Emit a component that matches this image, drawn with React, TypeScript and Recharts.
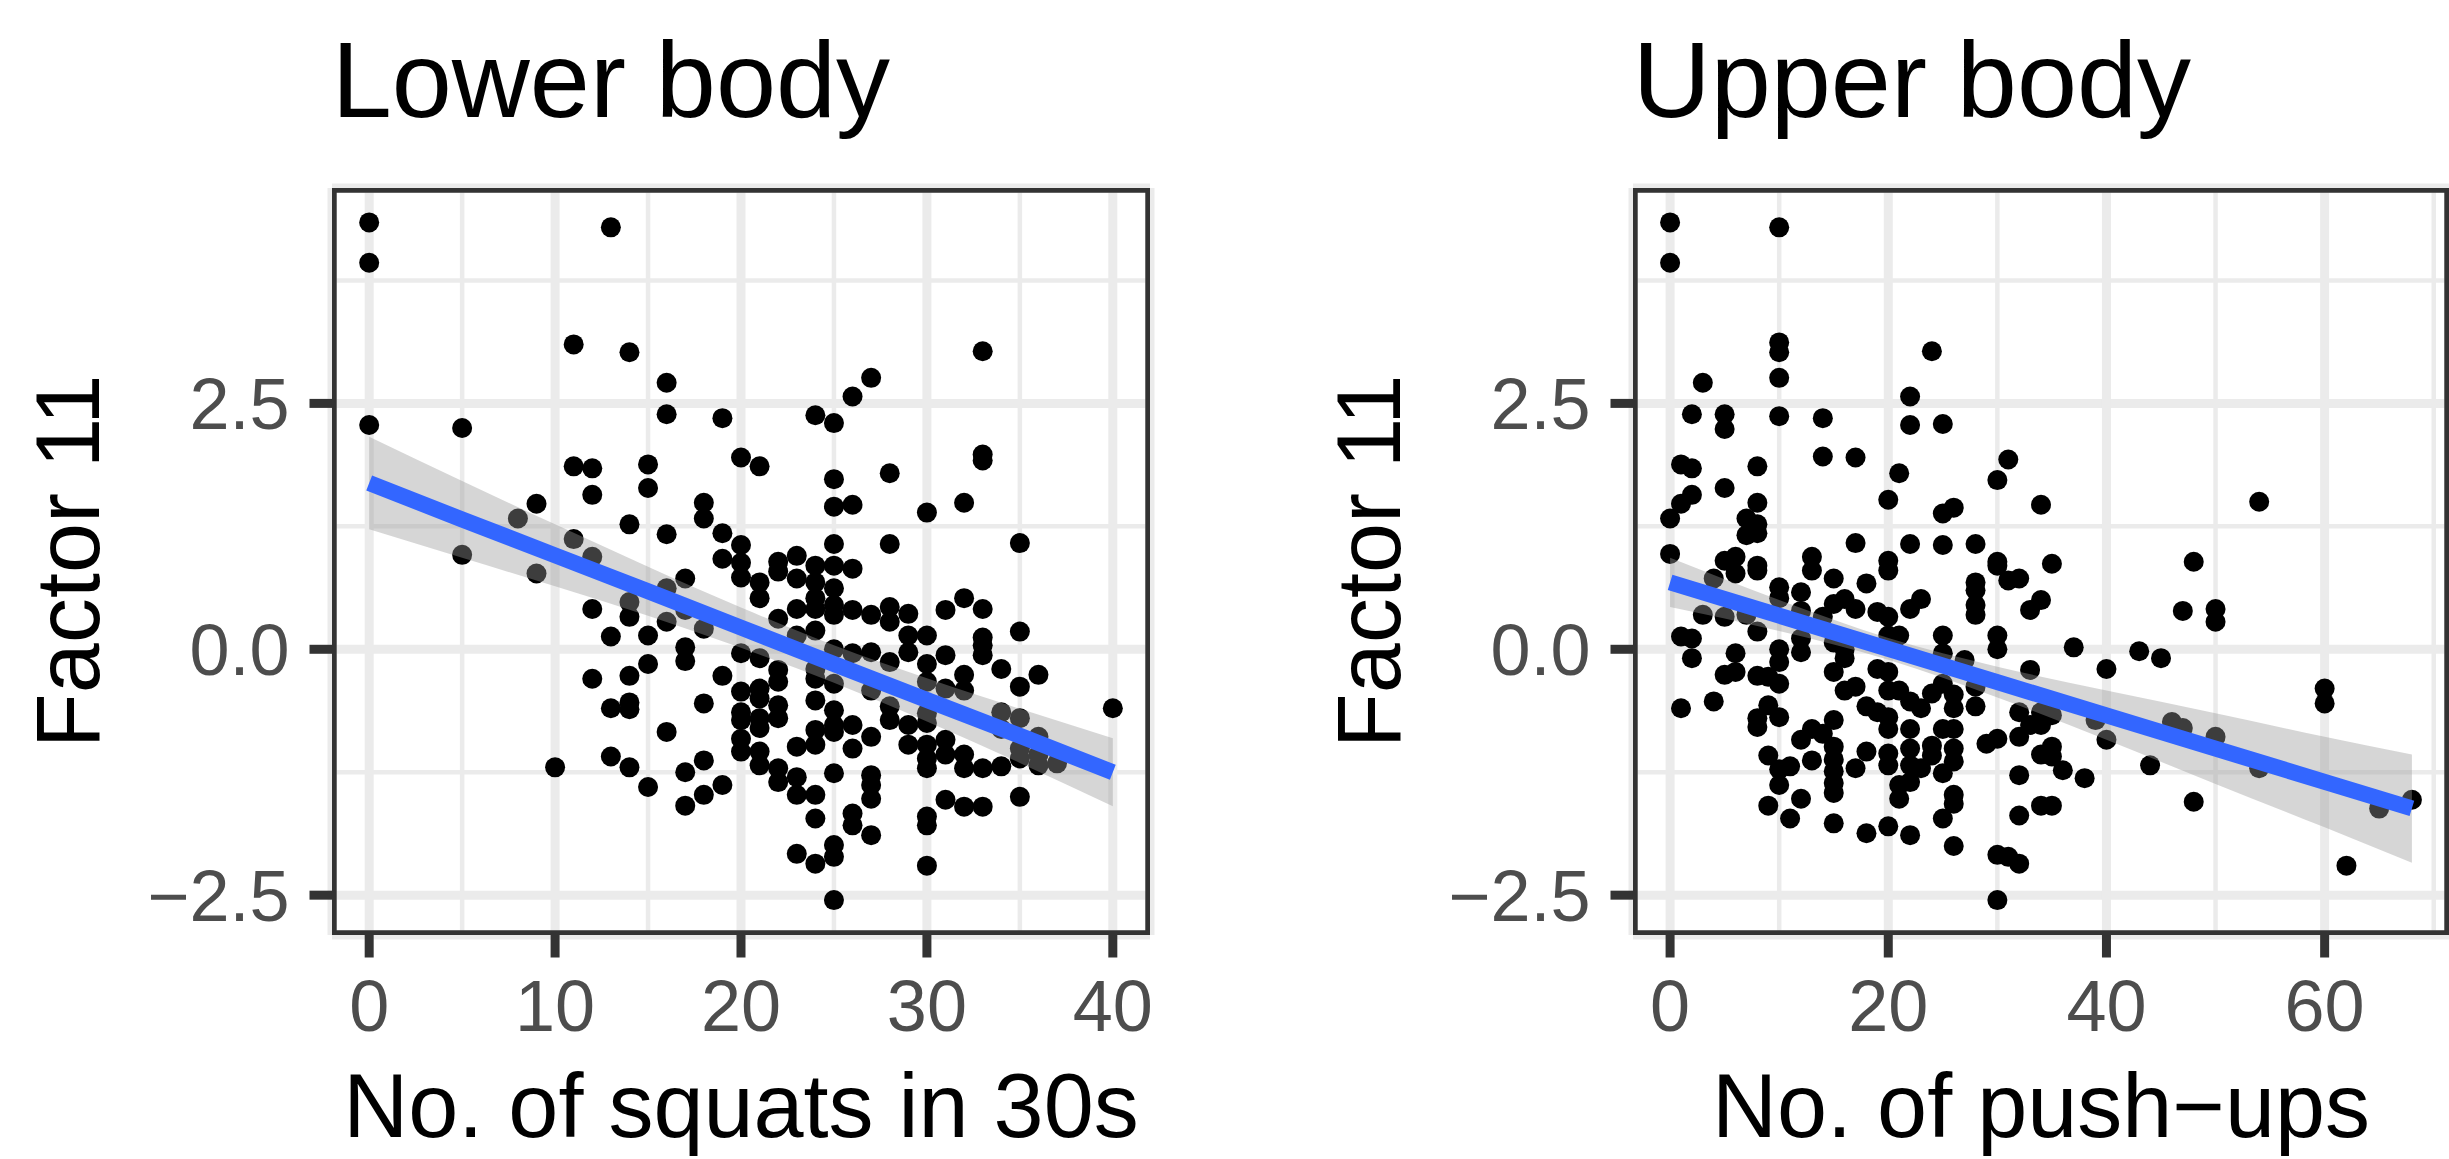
import { ComposedChart, Scatter, Line, Area, XAxis, YAxis, CartesianGrid, ReferenceArea } from 'recharts'

// [no. of squats, factor 11]
const lowerPoints: [number, number][] = [
  [0, 4.34], [0, 3.93], [13, 4.29], [11, 3.1], [14, 3.02], [16, 2.71], [0, 2.28], [5, 2.25], [16, 2.39], [19, 2.35],
  [11, 1.86], [12, 1.84], [12, 1.57], [15, 1.88], [15, 1.64], [20, 1.95], [9, 1.48], [8, 1.33], [14, 1.27], [16, 1.17],
  [18, 1.49], [18, 1.33], [19, 1.18], [20, 1.06], [5, 0.96], [11, 1.12], [12, 0.94], [19, 0.92], [20, 0.88],
  [33, 3.03], [27, 2.76], [26, 2.57], [24, 2.38], [25, 2.3], [21, 1.86], [25, 1.73], [28, 1.79], [33, 1.98], [33, 1.92],
  [25, 1.45], [26, 1.47], [30, 1.39], [32, 1.49], [35, 1.08], [25, 1.07], [28, 1.07],
  [9, 0.77], [20, 0.73], [17, 0.72], [16, 0.62], [14, 0.48], [14, 0.33], [12, 0.41], [17, 0.4], [18, 0.21], [16, 0.28],
  [13, 0.13], [15, 0.14], [17, 0.02], [20, -0.04], [17, -0.12], [15, -0.15], [12, -0.3], [14, -0.27], [19, -0.27],
  [20, -0.43], [13, -0.6], [14, -0.54], [14, -0.61], [18, -0.55], [20, -0.64], [20, -0.72], [16, -0.84], [20, -0.91],
  [20, -1.04], [13, -1.09], [14, -1.2], [10, -1.2], [15, -1.4], [17, -1.25], [18, -1.13], [18, -1.48], [19, -1.38], [17, -1.59],
  [21, 0.68], [21, 0.52], [21, -0.09], [21, -0.4], [21, -0.5], [21, -0.7], [21, -0.8], [21, -1.04], [21, -1.18],
  [22, 0.89], [22, 0.79], [22, 0.31], [22, -0.21], [22, -0.33], [22, -0.57], [22, -0.7], [22, -1.21], [22, -1.35],
  [23, 0.95], [23, 0.72], [23, 0.41], [23, 0.14], [23, -0.99], [23, -1.3], [23, -1.48], [23, -2.08],
  [24, 0.85], [24, 0.68], [24, 0.52], [24, 0.41], [24, 0.19], [24, -0.2], [24, -0.3], [24, -0.52], [24, -0.82], [24, -0.97],
  [24, -1.48], [24, -1.72], [24, -2.18],
  [25, 0.85], [25, 0.62], [25, 0.45], [25, 0.35], [25, 0], [25, -0.35], [25, -0.62], [25, -0.77], [25, -0.84], [25, -1.26],
  [25, -1.99], [25, -2.11], [25, -2.55],
  [26, 0.82], [26, 0.4], [26, -0.04], [26, -0.77], [26, -1.01], [26, -1.67], [26, -1.79],
  [27, 0.35], [27, -0.03], [27, -0.42], [27, -0.89], [27, -1.28], [27, -1.38], [27, -1.52], [27, -1.89],
  [28, 0.43], [28, 0.28], [28, -0.13], [28, -0.58], [28, -0.72],
  [29, 0.36], [29, 0.14], [29, -0.03], [29, -0.77], [29, -0.97],
  [30, 0.14], [30, -0.15], [30, -0.33], [30, -0.65], [30, -0.75], [30, -0.97], [30, -1.11], [30, -1.21], [30, -1.7], [30, -1.79], [30, -2.2],
  [31, 0.4], [31, -0.06], [31, -0.4], [31, -0.92], [31, -1.07], [31, -1.53],
  [32, 0.52], [32, -0.26], [32, -0.42], [32, -1.07], [32, -1.21], [32, -1.6],
  [33, 0.41], [33, 0.12], [33, 0.04], [33, -0.06], [33, -1.21], [33, -1.6],
  [34, -0.2], [34, -0.64], [34, -0.81], [34, -1.19],
  [35, 0.18], [35, -0.38], [35, -0.7], [35, -1.01], [35, -1.11], [35, -1.5],
  [36, -0.26], [36, -0.89], [36, -1.07], [36, -1.18],
  [37, -1.16], [40, -0.6],
]

// [no. of push-ups, factor 11]
const upperPoints: [number, number][] = [
  [0, 4.34], [0, 3.93], [10, 4.29], [10, 3.12], [10, 3.02], [10, 2.76], [24, 3.03], [3, 2.71], [22, 2.57], [2, 2.39],
  [5, 2.39], [5, 2.24], [10, 2.37], [14, 2.35], [22, 2.28], [25, 2.29], [1, 1.88], [2, 1.84], [8, 1.86], [14, 1.96],
  [17, 1.95], [21, 1.79], [31, 1.93], [30, 1.72], [5, 1.64], [2, 1.57], [1, 1.48], [8, 1.49], [0, 1.33], [20, 1.52],
  [25, 1.38], [26, 1.44], [34, 1.47], [7, 1.33], [8, 1.27], [7, 1.16], [8, 1.18], [0, 0.97], [17, 1.08], [22, 1.07],
  [25, 1.06], [28, 1.07], [5, 0.9], [6, 0.94], [13, 0.94], [20, 0.9], [30, 0.89], [8, 0.85],
  [54, 1.5], [35, 0.87], [48, 0.89],
  [34, 0.5], [47, 0.39], [50, 0.41], [50, 0.28], [37, 0.02], [43, -0.02], [45, -0.09], [40, -0.2], [60, -0.4], [60, -0.55],
  [35, -0.67], [34, -0.77], [39, -0.72], [40, -0.92], [46, -0.74], [47, -0.8], [50, -0.89], [35, -0.99], [35, -1.09],
  [36, -1.23], [38, -1.31], [44, -1.18], [54, -1.21], [35, -1.59], [48, -1.55], [65, -1.62], [68, -1.53], [62, -2.2],
  [6, 0.77], [8, 0.8], [13, 0.8], [15, 0.72], [18, 0.67], [20, 0.8], [10, 0.63], [10, 0.52], [12, 0.58], [4, 0.72],
  [3, 0.35], [5, 0.33], [7, 0.35], [1, 0.13], [2, 0.11], [2, -0.09], [8, 0.18], [6, -0.04], [5, -0.26], [6, -0.23],
  [8, -0.27], [9, -0.28], [10, -0.35], [10, 0], [10, -0.13], [12, 0.39], [12, 0.11], [12, -0.03], [14, 0.33], [15, 0.46],
  [16, 0.51], [17, 0.41], [19, 0.38], [20, 0.33], [15, 0.07], [16, 0], [16, -0.09], [15, -0.23], [16, -0.42], [17, -0.38],
  [18, -0.58], [19, -0.64], [20, 0.14], [21, 0.14], [19, -0.2], [20, -0.23], [20, -0.42], [21, -0.42], [22, 0.41], [23, 0.51],
  [25, 0.14], [25, -0.04], [27, -0.11], [28, 0.68], [28, 0.6], [28, 0.45], [28, 0.35], [30, 0.85], [31, 0.7], [32, 0.72],
  [33, 0.4], [30, 0.14], [30, 0], [33, -0.21], [28, -0.38], [28, -0.58], [26, -0.46], [26, -0.6], [25, -0.35], [24, -0.45],
  [23, -0.6], [22, -0.53], [32, -0.64], [33, -0.77], [34, -0.64], [8, -0.7], [9, -0.57], [10, -0.69], [8, -0.79], [12, -0.92],
  [13, -0.81], [14, -0.86], [15, -0.72], [9, -1.08], [10, -1.22], [11, -1.19], [13, -1.13], [15, -0.99], [15, -1.12], [15, -1.24],
  [15, -1.36], [15, -1.46], [17, -1.21], [18, -1.04], [20, -0.69], [20, -0.81], [20, -1.06], [20, -1.18], [22, -0.81], [22, -1.01],
  [22, -1.18], [22, -1.35], [21, -1.38], [21, -1.52], [23, -1.21], [24, -1.08], [24, -0.98], [25, -0.81], [26, -0.81], [26, -1.01],
  [26, -1.14], [25, -1.26], [29, -0.96], [30, -0.91], [32, -0.89], [34, -1.07], [32, -1.28], [9, -1.59], [11, -1.72], [10, -1.38],
  [12, -1.52], [15, -1.77], [18, -1.87], [20, -1.8], [22, -1.89], [26, -1.48], [26, -1.57], [25, -1.72], [26, -2], [30, -2.09],
  [31, -2.11], [32, -2.18], [32, -1.69], [34, -1.59], [30, -2.55], [1, -0.6], [4, -0.53],
]

// linear fit with 95% band
const lowerFitX = [0, 5, 10, 15, 20, 25, 30, 35, 40]
const lowerFit = [1.69, 1.32, 0.955, 0.59, 0.22, -0.15, -0.515, -0.88, -1.25]
const lowerLo = [1.22, 0.93, 0.64, 0.34, 0.015, -0.34, -0.735, -1.155, -1.595]
const lowerHi = [2.16, 1.71, 1.27, 0.84, 0.425, 0.04, -0.295, -0.605, -0.905]

const upperFitX = [0, 10, 20, 30, 40, 50, 60, 68]
const upperFit = [0.68, 0.342, 0.004, -0.334, -0.672, -1.01, -1.348, -1.618]
const upperLo = [0.43, 0.185, -0.106, -0.49, -0.92, -1.37, -1.81, -2.17]
const upperHi = [0.93, 0.5, 0.114, -0.177, -0.42, -0.65, -0.89, -1.07]

const lowerXTicks = [0, 10, 20, 30, 40]
const lowerXMinor = [5, 15, 25, 35]
const upperXTicks = [0, 20, 40, 60]
const upperXMinor = [10, 30, 50, 70]
const yTicks = [-2.5, 0, 2.5]
const yMinor = [-1.25, 1.25, 3.75]

const Y_DOMAIN: [number, number] = [-2.905, 4.69]
const H = 1159
const FONT = '"Liberation Sans", Arial, Helvetica, sans-serif'

const fmtY = (v: number) => (v < 0 ? '\u2212' : '') + Math.abs(v).toFixed(1)

const Dot = (props: any) => <circle cx={props.cx} cy={props.cy} r={10} fill="#000000" />

interface PanelProps {
  points: [number, number][]
  fitX: number[]
  fit: number[]
  lo: number[]
  hi: number[]
  xDomain: [number, number]
  xTicks: number[]
  xMinor: number[]
  width: number
  yAxisWidth: number
  right: number
}

function Panel({ points, fitX, fit, lo, hi, xDomain, xTicks, xMinor, width, yAxisWidth, right }: PanelProps) {
  const pts = points.map(([x, y]) => ({ x, y }))
  const band = fitX.map((x, i) => ({ x, fit: fit[i], band: [lo[i], hi[i]] }))

  return (
    <ComposedChart width={width} height={H} data={band} margin={{ top: 188, right, bottom: 0, left: 0 }}>
      <XAxis xAxisId="minor" type="number" dataKey="x" domain={xDomain} allowDataOverflow ticks={xMinor} interval={0} hide />
      <YAxis yAxisId="minor" type="number" domain={Y_DOMAIN} allowDataOverflow ticks={yMinor} interval={0} hide />
      <CartesianGrid xAxisId="minor" yAxisId="minor" stroke="#EBEBEB" strokeWidth={4.5} />
      <CartesianGrid stroke="#EBEBEB" strokeWidth={9} />
      <XAxis
        type="number"
        dataKey="x"
        domain={xDomain}
        allowDataOverflow
        ticks={xTicks}
        interval={0}
        height={224}
        tickSize={22.5}
        tickMargin={22.4}
        axisLine={false}
        tickLine={{ stroke: '#333333', strokeWidth: 9 }}
        tick={{ fill: '#4D4D4D', fontSize: 72, fontFamily: FONT }}
      />
      <YAxis
        type="number"
        dataKey="y"
        domain={Y_DOMAIN}
        allowDataOverflow
        ticks={yTicks}
        interval={0}
        width={yAxisWidth}
        tickSize={22.5}
        tickMargin={20}
        axisLine={false}
        tickFormatter={fmtY}
        tickLine={{ stroke: '#333333', strokeWidth: 9 }}
        tick={{ fill: '#4D4D4D', fontSize: 72, fontFamily: FONT }}
      />
      <Scatter data={pts} shape={Dot} isAnimationActive={false} zIndex={600} />
      <Area
        dataKey="band"
        type="monotone"
        stroke="none"
        fill="#999999"
        fillOpacity={0.4}
        dot={false}
        activeDot={false}
        isAnimationActive={false}
        zIndex={700}
      />
      <Line
        dataKey="fit"
        type="linear"
        stroke="#3366FF"
        strokeWidth={16}
        dot={false}
        activeDot={false}
        isAnimationActive={false}
        zIndex={800}
      />
      <ReferenceArea
        x1={xDomain[0]}
        x2={xDomain[1]}
        y1={Y_DOMAIN[0]}
        y2={Y_DOMAIN[1]}
        ifOverflow="hidden"
        fill="none"
        fillOpacity={0}
        stroke="#333333"
        strokeWidth={9.4}
        zIndex={1500}
      />
    </ComposedChart>
  )
}

const titleStyle = { fontFamily: FONT, fill: '#000000' }

export default function App() {
  return (
    <div style={{ position: 'absolute', left: 0, top: 0, width: 2449, height: H, background: '#ffffff' }}>
      <div style={{ position: 'absolute', left: 0, top: 0 }}>
        <Panel
          points={lowerPoints}
          fitX={lowerFitX}
          fit={lowerFit}
          lo={lowerLo}
          hi={lowerHi}
          xDomain={[-2, 42]}
          xTicks={lowerXTicks}
          xMinor={lowerXMinor}
          width={1224}
          yAxisWidth={332}
          right={74}
        />
      </div>
      <div style={{ position: 'absolute', left: 1224, top: 0 }}>
        <Panel
          points={upperPoints}
          fitX={upperFitX}
          fit={upperFit}
          lo={upperLo}
          hi={upperHi}
          xDomain={[-3.4, 71.4]}
          xTicks={upperXTicks}
          xMinor={upperXMinor}
          width={1225}
          yAxisWidth={409}
          right={0}
        />
      </div>
      <svg width={2449} height={H} style={{ position: 'absolute', left: 0, top: 0, pointerEvents: 'none' }}>
        <text x={331.7} y={117} fontSize={108} style={titleStyle}>Lower body</text>
        <text x={1632.7} y={117} fontSize={108} style={titleStyle}>Upper body</text>
        <text x={99.5} y={561.4} fontSize={90} textAnchor="middle" transform="rotate(-90 99.5 561.4)" style={titleStyle}>
          Factor 11
        </text>
        <text x={1400.5} y={561.4} fontSize={90} textAnchor="middle" transform="rotate(-90 1400.5 561.4)" style={titleStyle}>
          Factor 11
        </text>
        <text x={741} y={1137} fontSize={90} textAnchor="middle" style={titleStyle}>No. of squats in 30s</text>
        <text x={2041} y={1137} fontSize={90} textAnchor="middle" style={titleStyle}>No. of push{'\u2212'}ups</text>
      </svg>
    </div>
  )
}
